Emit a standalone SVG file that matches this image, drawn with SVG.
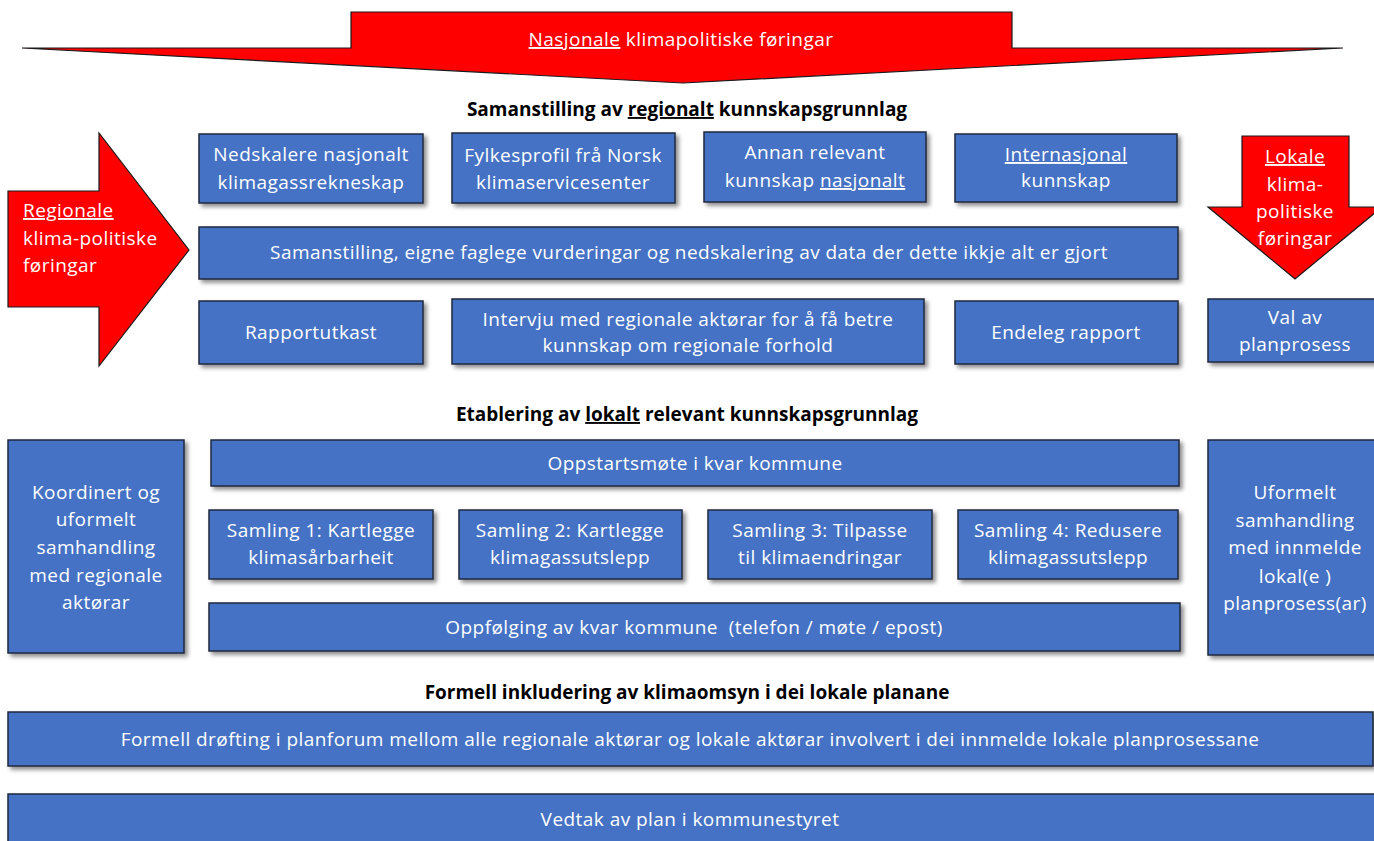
<svg xmlns="http://www.w3.org/2000/svg" width="1374" height="841" viewBox="0 0 1374 841">
<defs>
<filter id="sh" x="-10%" y="-20%" width="130%" height="150%">
<feDropShadow dx="3" dy="3" stdDeviation="2" flood-color="#000" flood-opacity="0.45"/>
</filter>
</defs>
<style>
.box{fill:#4472C4;stroke:#1F2A3C;stroke-width:1.5;filter:url(#sh)}
.arrow{fill:#FF0000;stroke:#1a1a1a;stroke-width:1.2}
.t{font-family:"Open Sans","Liberation Sans",sans-serif;font-size:19px;letter-spacing:0.45px;fill:#fff;text-anchor:middle}
.tl{font-family:"Open Sans","Liberation Sans",sans-serif;font-size:19px;letter-spacing:0.45px;fill:#fff}
.h{font-family:"Open Sans","Liberation Sans",sans-serif;font-size:19px;font-weight:bold;fill:#000;text-anchor:middle}
.u{text-decoration:underline}
</style>
<rect width="1374" height="841" fill="#fff"/>

<g id="top-arrow">
<polygon class="arrow" points="22,48 351,48 351,12 1012,12 1012,48 1343,48 683,83"/>
<text class="t" x="681" y="46"><tspan class="u">Nasjonale</tspan> klimapolitiske føringar</text>
</g>

<g id="left-arrow">
<polygon class="arrow" points="8,191 99,191 99,133 189,250 99,366 99,307 8,307"/>
<text class="tl" x="23" y="217"><tspan class="u">Regionale</tspan></text>
<text class="tl" x="23" y="245">klima-politiske</text>
<text class="tl" x="23" y="272">føringar</text>
</g>

<g id="right-arrow">
<polygon class="arrow" points="1242,136 1349,136 1349,207 1382,207 1295,279 1208,207 1242,207"/>
<text class="t" x="1295" y="163"><tspan class="u">Lokale</tspan></text>
<text class="t" x="1295" y="191">klima-</text>
<text class="t" x="1295" y="218">politiske</text>
<text class="t" x="1295" y="245">føringar</text>
</g>

<g id="headings">
<text class="h" x="687" y="116">Samanstilling av <tspan class="u">regionalt</tspan> kunnskapsgrunnlag</text>
<text class="h" x="687" y="421">Etablering av <tspan class="u">lokalt</tspan> relevant kunnskapsgrunnlag</text>
<text class="h" x="687" y="699">Formell inkludering av klimaomsyn i dei lokale planane</text>
</g>

<g id="n1"><rect class="box" x="199" y="134" width="224" height="69"/>
<text class="t" x="311" y="161">Nedskalere nasjonalt</text><text class="t" x="311" y="189">klimagassrekneskap</text></g>
<g id="n2"><rect class="box" x="452" y="133" width="223" height="70"/>
<text class="t" x="563" y="162">Fylkesprofil frå Norsk</text><text class="t" x="563" y="189">klimaservicesenter</text></g>
<g id="n3"><rect class="box" x="704" y="132" width="222" height="70"/>
<text class="t" x="815" y="159">Annan relevant</text><text class="t" x="815" y="187">kunnskap <tspan class="u">nasjonalt</tspan></text></g>
<g id="n4"><rect class="box" x="955" y="134" width="222" height="68"/>
<text class="t" x="1066" y="161"><tspan class="u">Internasjonal</tspan></text><text class="t" x="1066" y="187">kunnskap</text></g>

<g id="n5"><rect class="box" x="199" y="227" width="979" height="52"/>
<text class="t" x="689" y="259">Samanstilling, eigne faglege vurderingar og nedskalering av data der dette ikkje alt er gjort</text></g>

<g id="n6"><rect class="box" x="199" y="301" width="224" height="63"/>
<text class="t" x="311" y="339">Rapportutkast</text></g>
<g id="n7"><rect class="box" x="452" y="299" width="472" height="65"/>
<text class="t" x="688" y="326">Intervju med regionale aktørar for å få betre</text><text class="t" x="688" y="352">kunnskap om regionale forhold</text></g>
<g id="n8"><rect class="box" x="955" y="301" width="223" height="63"/>
<text class="t" x="1066" y="339">Endeleg rapport</text></g>
<g id="n9"><rect class="box" x="1208" y="299" width="180" height="63"/>
<text class="t" x="1295" y="324">Val av</text><text class="t" x="1295" y="351">planprosess</text></g>

<g id="n10"><rect class="box" x="8" y="440" width="176" height="213"/>
<text class="t" x="96" y="499">Koordinert og</text><text class="t" x="96" y="526">uformelt</text><text class="t" x="96" y="554">samhandling</text><text class="t" x="96" y="582">med regionale</text><text class="t" x="96" y="609">aktørar</text></g>

<g id="n11"><rect class="box" x="211" y="440" width="968" height="46"/>
<text class="t" x="695" y="470">Oppstartsmøte i kvar kommune</text></g>

<g id="n12"><rect class="box" x="209" y="510" width="224" height="69"/>
<text class="t" x="321" y="537">Samling 1: Kartlegge</text><text class="t" x="321" y="564">klimasårbarheit</text></g>
<g id="n13"><rect class="box" x="459" y="510" width="223" height="69"/>
<text class="t" x="570" y="537">Samling 2: Kartlegge</text><text class="t" x="570" y="564">klimagassutslepp</text></g>
<g id="n14"><rect class="box" x="708" y="510" width="224" height="69"/>
<text class="t" x="820" y="537">Samling 3: Tilpasse</text><text class="t" x="820" y="564">til klimaendringar</text></g>
<g id="n15"><rect class="box" x="958" y="510" width="220" height="69"/>
<text class="t" x="1068" y="537">Samling 4: Redusere</text><text class="t" x="1068" y="564">klimagassutslepp</text></g>

<g id="n16"><rect class="box" x="209" y="603" width="971" height="48"/>
<text class="t" x="694" y="634" xml:space="preserve">Oppfølging av kvar kommune  (telefon / møte / epost)</text></g>

<g id="n17"><rect class="box" x="1208" y="440" width="180" height="215"/>
<text class="t" x="1295" y="499">Uformelt</text><text class="t" x="1295" y="527">samhandling</text><text class="t" x="1295" y="554">med innmelde</text><text class="t" x="1295" y="583" xml:space="preserve">lokal(e )</text><text class="t" x="1295" y="610">planprosess(ar)</text></g>

<g id="n18"><rect class="box" x="8" y="712" width="1365" height="54"/>
<text class="t" x="690" y="746">Formell drøfting i planforum mellom alle regionale aktørar og lokale aktørar involvert i dei innmelde lokale planprosessane</text></g>

<g id="n19"><rect class="box" x="8" y="794" width="1380" height="60"/>
<text class="t" x="690" y="826">Vedtak av plan i kommunestyret</text></g>

<g id="connectors"></g>
</svg>
